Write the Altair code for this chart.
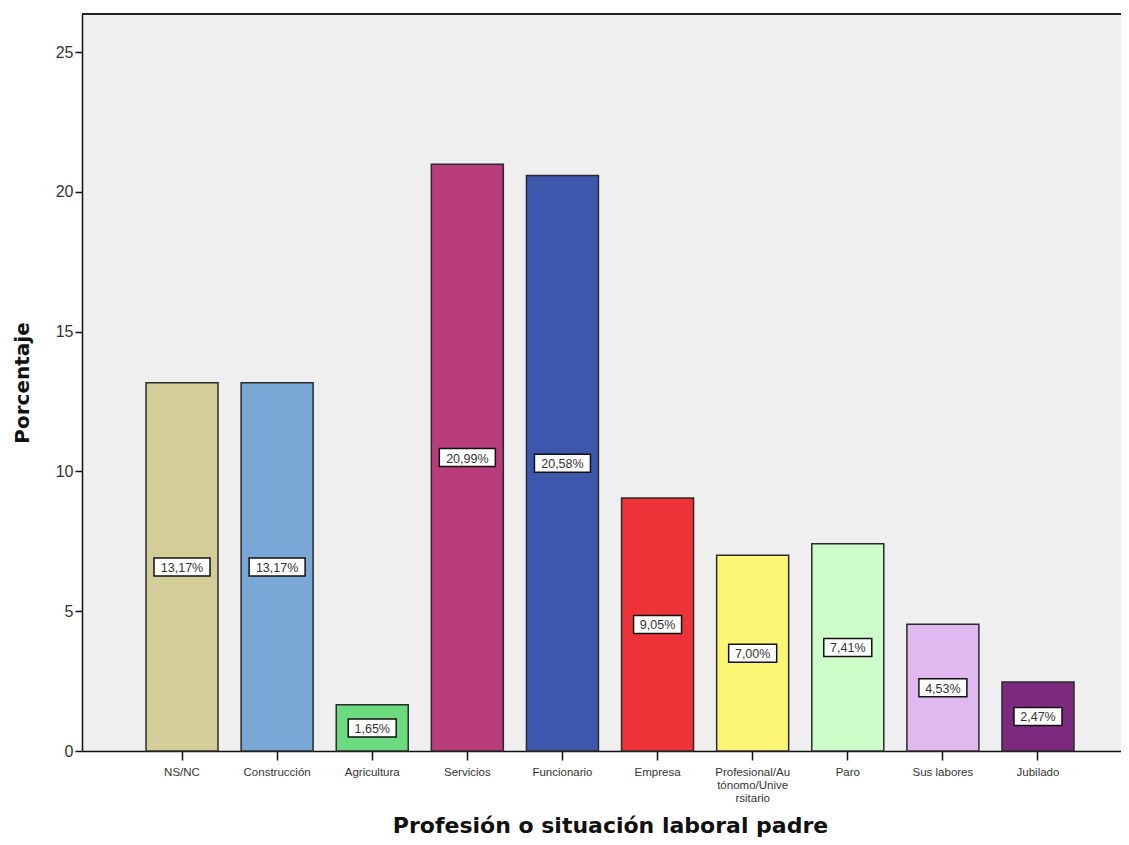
import altair as alt
import pandas as pd

categories = ["NS/NC", "Construcción", "Agricultura", "Servicios", "Funcionario",
              "Empresa", "Profesional/Autónomo/Universitario", "Paro", "Sus labores", "Jubilado"]
percentages = [13.17, 13.17, 1.65, 20.99, 20.58, 9.05, 7.00, 7.41, 4.53, 2.47]
bar_colors = ["#d3ce97", "#79a8d6", "#6cdb80", "#b93c7b", "#3d57ad",
              "#ee3338", "#fbf775", "#cdfdc8", "#e0b9f1", "#7d2a7e"]

df = pd.DataFrame({"cat": categories, "value": percentages})

label_expr = ("datum.value == 'Profesional/Autónomo/Universitario' ? "
              "['Profesional/Au', 'tónomo/Unive', 'rsitario'] : datum.value")

x_enc = alt.X("cat:N", sort=categories,
              scale=alt.Scale(range=[0, 1056], paddingInner=0.243, paddingOuter=0.673),
              axis=alt.Axis(title="Profesión o situación laboral padre", labelAngle=0,
                            labelExpr=label_expr, labelFont="Liberation Sans",
                            labelFontSize=11.5, labelColor="#333", labelPadding=6,
                            labelLineHeight=13,
                            tickSize=9, tickColor="#111", tickWidth=1.5,
                            domainColor="#111", domainWidth=1.5,
                            titleFont="DejaVu Sans", titleFontSize=22, titleFontWeight="bold",
                            titleColor="#111", titleY=74, titleBaseline="middle",
                            labelLimit=200))

y_scale = alt.Scale(domain=[0, 26.36], nice=False)

bars = alt.Chart(df).mark_bar(stroke="#2a2a2a", strokeWidth=1.5).encode(
    x=x_enc,
    y=alt.Y("value:Q", scale=y_scale,
            axis=alt.Axis(title="Porcentaje", values=[0, 5, 10, 15, 20, 25], grid=False,
                          labelFont="Liberation Sans", labelFontSize=16, labelColor="#333",
                          labelPadding=2, tickSize=7, tickColor="#111", tickWidth=1.5,
                          domainColor="#111", domainWidth=1.5,
                          titleFont="DejaVu Sans", titleFontSize=20, titleFontWeight="bold",
                          titleColor="#111", titleX=-60, titleY=368.5,
                          titleBaseline="middle")),
    color=alt.Color("cat:N", scale=alt.Scale(domain=categories, range=bar_colors), legend=None),
)

top_border = alt.Chart(df).mark_rule(color="#222", strokeWidth=1.5).encode(
    x=alt.value(0), x2=alt.value(1039), y=alt.value(0)
)

base_lbl = alt.Chart(df).transform_calculate(
    mid="datum.value / 2",
    label="replace(format(datum.value, '.2f'), '.', ',') + '%'",
    box="length(replace(format(datum.value, '.2f'), '.', ',')) > 4 ? 'M-28,-9H28V9H-28Z' : 'M-24,-9H24V9H-24Z'",
)

boxes = base_lbl.mark_point(filled=True, fill="white", stroke="#111", strokeWidth=1.5,
                            opacity=1, size=4).encode(
    x=alt.X("cat:N", sort=categories),
    y=alt.Y("mid:Q", scale=y_scale),
    shape=alt.Shape("box:N", scale=None),
)

texts = base_lbl.mark_text(font="Liberation Sans", fontSize=12.5, color="#333",
                           baseline="middle", align="center", dy=1).encode(
    x=alt.X("cat:N", sort=categories),
    y=alt.Y("mid:Q", scale=y_scale),
    text="label:N",
)

chart = alt.layer(bars, top_border, boxes, texts).properties(
    width=1039, height=737,
    autosize=alt.AutoSizeParams(type="none"),
    padding={"left": 74, "top": 6, "right": 0, "bottom": 86},
    background="white",
).configure_view(fill="#efefef", stroke=None)

chart.save("out.html", embed_options={"renderer": "svg", "actions": False})
